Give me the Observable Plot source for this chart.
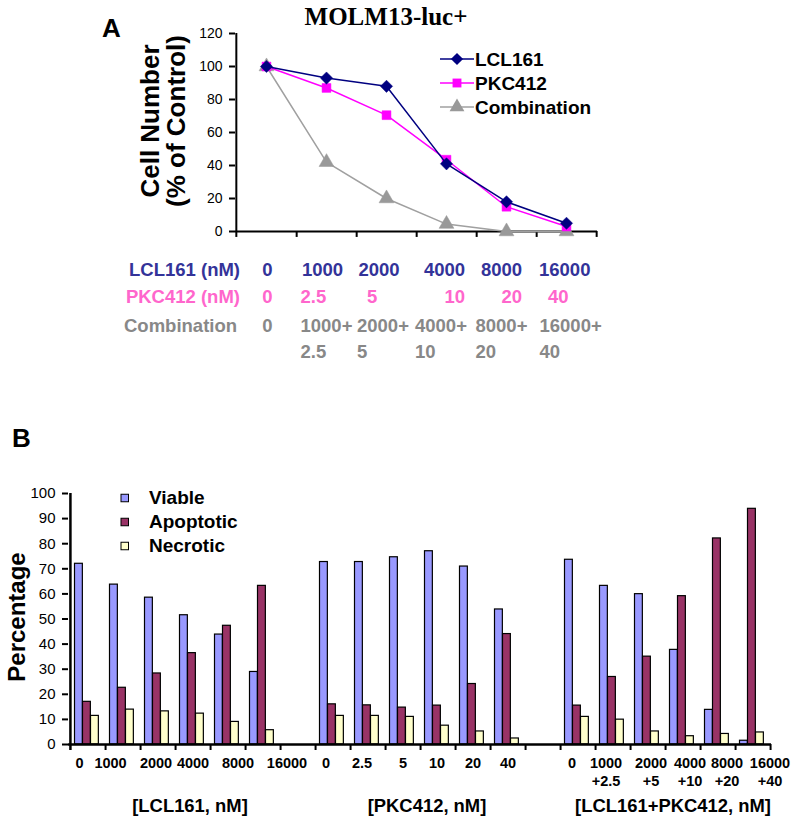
<!DOCTYPE html>
<html><head><meta charset="utf-8">
<script src="https://cdn.jsdelivr.net/npm/d3@7"></script>
<script src="https://cdn.jsdelivr.net/npm/@observablehq/plot@0.6"></script>
<style>
body{margin:0;background:#fff;}
#root{position:relative;width:800px;height:824px;overflow:hidden;font-family:Arial,"Liberation Sans",sans-serif;}
#root > svg{position:absolute;left:0;}
.pl g[aria-label="y-axis"] .tick line, .pl g[aria-label="y-axis tick"] path{stroke-width:2;}
</style></head><body><div id="root"></div>
<script>
// ---------- Panel A data ----------
const doseCats = ["0","1000","2000","4000","8000","16000"];
const seriesA = ["LCL161","PKC412","Combination"];
const lclViability = [100, 93, 88, 41, 18, 5];
const pkcViability = [100, 87, 70.5, 43.5, 15, 3];
const comboViability = [100, 42, 20, 4.5, 0, 0];
const yTicksA = [0, 20, 40, 60, 80, 100, 120];
// dose table under panel A
const tableRowLabels = ["LCL161 (nM)", "PKC412 (nM)", "Combination"];
const lclDoseLabels = ["0","1000","2000","4000","8000","16000"];
const pkcDoseLabels = ["0","2.5","5","10","20","40"];
const comboLabelsTop = ["0","1000+","2000+","4000+","8000+","16000+"];
const comboLabelsBottom = ["","2.5","5","10","20","40"];

// ---------- Panel B data ----------
const seriesB = ["Viable","Apoptotic","Necrotic"];
const groupLabelsB = ["[LCL161, nM]","[PKC412, nM]","[LCL161+PKC412, nM]"];
const lclTickLabels = ["0","1000","2000","4000","8000","16000"];
const pkcTickLabels = ["0","2.5","5","10","20","40"];
const comboTickTop = ["0","1000","2000","4000","8000","16000"];
const comboTickBottom = ["","+2.5","+5","+10","+20","+40"];
const viable    = [72, 63.7, 58.5, 51.5, 43.8, 28.9,  72.7, 72.7, 74.6, 77, 70.9, 53.8,  73.6, 63.2, 59.9, 37.7, 13.8, 1.5];
const apoptotic = [17, 22.6, 28.3, 36.4, 47.3, 63.2,  16, 15.6, 14.7, 15.5, 24.1, 44,  15.5, 26.9, 35, 59.1, 82.1, 93.9];
const necrotic  = [11.4, 13.9, 13.2, 12.3, 9, 5.7,  11.4, 11.4, 11, 7.5, 5.2, 2.4,  11, 9.9, 5.2, 3.3, 4.2, 4.8];
const yTicksB = [0,10,20,30,40,50,60,70,80,90,100];

// ---------- styles / layout ----------
const colorsA = {LCL161:"#000080", PKC412:"#ff00ff", Combination:"#a0a0a0"};
const markerFillA = {LCL161:"#000080", PKC412:"#ff00ff", Combination:"#999999"};
const symbolsA = {LCL161:"diamond2", PKC412:"square", Combination:"triangle"};
const d3SymbolsA = {LCL161:d3.symbolDiamond2, PKC412:d3.symbolSquare, Combination:d3.symbolTriangle};
const rSymA = {LCL161:5.5, PKC412:5, Combination:5.5};
const rowColors = ["#333399", "#ff66cc", "#888888"];
const fillsB = {Viable:"#9999ff", Apoptotic:"#993366", Necrotic:"#ffffcc"};
const sans = "Arial,'Liberation Sans',sans-serif";

const root = d3.select("#root");

// ---------- Panel A plot ----------
const A = {left:235, right:597, top:33, bottom:231, h:245};
const stepA = (A.right - A.left) / doseCats.length;
const valsA = {LCL161: lclViability, PKC412: pkcViability, Combination: comboViability};
const rowsA = seriesA.flatMap(s => doseCats.map((c, i) => ({series: s, cat: c, value: valsA[s][i]})));

const plotA = Plot.plot({
  width: 800, height: A.h,
  marginLeft: A.left, marginRight: 800 - A.right, marginTop: A.top, marginBottom: A.h - A.bottom,
  className: "pl",
  x: {type: "point", domain: doseCats, padding: 0.5, axis: null},
  y: {domain: [0, 120], ticks: yTicksA, tickSize: 6, tickPadding: 7, label: null},
  style: {fontFamily: sans, fontSize: "14px", color: "#000", background: "transparent", overflow: "visible"},
  marks: [
    Plot.ruleY([0], {strokeWidth: 2}),
    Plot.ruleX([doseCats[0]], {x: d => d, dx: -stepA / 2, y1: -3.6, y2: 120, strokeWidth: 2}),
    Plot.ruleX(doseCats, {x: d => d, dx: stepA / 2, y1: 0, y2: -3.6, strokeWidth: 2}),
    ...seriesA.slice().reverse().flatMap(s => [
      Plot.line(rowsA.filter(d => d.series === s), {x: "cat", y: "value", stroke: colorsA[s], strokeWidth: 1.5}),
      Plot.dot(rowsA.filter(d => d.series === s), {x: "cat", y: "value", symbol: symbolsA[s], r: rSymA[s], fill: markerFillA[s], stroke: markerFillA[s], strokeWidth: 0.5})
    ])
  ]
});
plotA.style.top = "0px";
root.node().append(plotA);

// ---------- Panel B plot ----------
const B = {left:68, right:771, top:493, bottom:744, svgTop:440};
const gk = ["L","P","C"];
const tickSets = [lclTickLabels, pkcTickLabels, comboTickTop];
const domainB = [];
const rowsB = [];
tickSets.forEach((labels, g) => {
  if (g > 0) domainB.push("gap" + g);
  labels.forEach((lab, i) => {
    const k = g * 6 + i;
    domainB.push(gk[g] + i);
    rowsB.push({key: gk[g] + i, top: lab, bottom: g === 2 ? comboTickBottom[i] : "",
                Viable: viable[k], Apoptotic: apoptotic[k], Necrotic: necrotic[k]});
  });
});
const bw = (B.right - B.left) / domainB.length;
const barW = 8, barStart = 4.5;
const labelDx = [-8.5,-12.5,-2,0,10,24, -7,-6,0,-1,0,0, -6,-7,3,7,9,17];
const svgHB = 824 - B.svgTop;

const plotB = Plot.plot({
  width: 800, height: svgHB,
  marginLeft: B.left, marginRight: 800 - B.right, marginTop: B.top - B.svgTop, marginBottom: svgHB - (B.bottom - B.svgTop),
  className: "pl",
  x: {type: "band", domain: domainB, padding: 0, axis: null},
  y: {domain: [0, 100], ticks: yTicksB, tickSize: 6, tickPadding: 7, label: null},
  style: {fontFamily: sans, fontSize: "15px", color: "#000", background: "transparent", overflow: "visible"},
  marks: [
    ...seriesB.map((s, j) => Plot.barY(rowsB, {
      x: "key", y: s, fill: fillsB[s], stroke: "#000", strokeWidth: 1.2,
      insetLeft: barStart + j * barW, insetRight: bw - (barStart + (j + 1) * barW)
    })),
    Plot.ruleY([0], {strokeWidth: 2.5}),
    Plot.ruleX([domainB[0]], {x: d => d, dx: -bw / 2, y1: -2.4, y2: 100, strokeWidth: 2.5}),
    Plot.ruleX(domainB, {x: d => d, dx: bw / 2, y1: 0, y2: -2.4, strokeWidth: 2}),
    ...rowsB.map((r, j) => Plot.text([r], {x: "key", y: 0, text: "top", dx: labelDx[j], dy: 19,
      fontWeight: "bold", fontSize: 14.5, fontFamily: sans, fill: "#000"})),
    ...rowsB.map((r, j) => Plot.text([r], {x: "key", y: 0, text: "bottom", dx: labelDx[j], dy: 37,
      fontWeight: "bold", fontSize: 14.5, fontFamily: sans, fill: "#000"}))
  ]
});
plotB.style.top = B.svgTop + "px";
root.node().append(plotB);

// ---------- Overlay: titles, labels, legends, dose table ----------
const ov = root.append("svg").attr("width", 800).attr("height", 824)
  .style("top", "0px").style("pointer-events", "none");

// Panel A texts
ov.append("text").attr("x", 102).attr("y", 37).attr("font-family", sans).attr("font-weight", "bold")
  .attr("font-size", 26).text("A");
ov.append("text").attr("x", 386).attr("y", 25).attr("text-anchor", "middle")
  .attr("font-family", "'Liberation Serif','Times New Roman',serif").attr("font-weight", "bold")
  .attr("font-size", 25).text("MOLM13-luc+");
[["Cell Number", 159], ["(% of Control)", 185]].forEach(([t, x]) => {
  ov.append("text").attr("transform", `translate(${x},121) rotate(-90)`).attr("text-anchor", "middle")
    .attr("font-family", sans).attr("font-weight", "bold").attr("font-size", 26).text(t);
});

// Panel A legend
const legA = {x1: 440, x2: 474, y0: 59, dy: 24};
seriesA.forEach((s, i) => {
  const y = legA.y0 + i * legA.dy;
  ov.append("line").attr("x1", legA.x1).attr("x2", legA.x2).attr("y1", y).attr("y2", y)
    .attr("stroke", colorsA[s]).attr("stroke-width", 1.5);
  ov.append("path").attr("transform", `translate(${(legA.x1 + legA.x2) / 2},${y})`)
    .attr("d", d3.symbol(d3SymbolsA[s], Math.PI * rSymA[s] * rSymA[s])())
    .attr("fill", markerFillA[s]);
  ov.append("text").attr("x", legA.x2 + 1).attr("y", y + 7).attr("font-family", sans)
    .attr("font-weight", "bold").attr("font-size", 19).text(s);
});

// Dose table
const tabY = [276, 303, 332, 358];
const tabFont = 18.5;
const zeroX = 267.5;
const colLeft = [
  [302, 358.5, 424, 481, 539],
  [300.5, 367, 444.5, 501.5, 548],
  [300.5, 357, 415, 475.5, 539.5]
];
const tableRows = [lclDoseLabels, pkcDoseLabels, comboLabelsTop];
tableRows.forEach((labels, r) => {
  ov.append("text").attr("x", r === 2 ? 124 : 240).attr("y", tabY[r])
    .attr("text-anchor", r === 2 ? "start" : "end")
    .attr("font-family", sans).attr("font-weight", "bold").attr("font-size", tabFont)
    .attr("fill", rowColors[r]).text(tableRowLabels[r]);
  labels.forEach((lab, i) => {
    ov.append("text").attr("x", i === 0 ? zeroX : colLeft[r][i - 1]).attr("y", tabY[r])
      .attr("text-anchor", i === 0 ? "middle" : "start")
      .attr("font-family", sans).attr("font-weight", "bold").attr("font-size", tabFont)
      .attr("fill", rowColors[r]).text(lab);
  });
});
comboLabelsBottom.forEach((lab, i) => {
  if (!lab) return;
  ov.append("text").attr("x", colLeft[2][i - 1]).attr("y", tabY[3])
    .attr("font-family", sans).attr("font-weight", "bold").attr("font-size", tabFont)
    .attr("fill", rowColors[2]).text(lab);
});

// Panel B texts
ov.append("text").attr("x", 12).attr("y", 447).attr("font-family", sans).attr("font-weight", "bold")
  .attr("font-size", 26).text("B");
ov.append("text").attr("transform", "translate(25,617) rotate(-90)").attr("text-anchor", "middle")
  .attr("font-family", sans).attr("font-weight", "bold").attr("font-size", 24).text("Percentage");
const legB = {x: 121, y0: 498, dy: 24, s: 7.5, tx: 149};
seriesB.forEach((s, i) => {
  const y = legB.y0 + i * legB.dy;
  ov.append("rect").attr("x", legB.x).attr("y", y - legB.s / 2).attr("width", legB.s).attr("height", legB.s)
    .attr("fill", fillsB[s]).attr("stroke", "#000").attr("stroke-width", 1);
  ov.append("text").attr("x", legB.tx).attr("y", y + 6).attr("font-family", sans)
    .attr("font-weight", "bold").attr("font-size", 19).text(s);
});
const groupCx = [190, 427, 673];
groupLabelsB.forEach((t, i) => {
  ov.append("text").attr("transform", `translate(${groupCx[i]},812) scale(0.97,1)`)
    .attr("text-anchor", "middle")
    .attr("font-family", sans).attr("font-weight", "bold").attr("font-size", 19).text(t);
});
</script></body></html>
